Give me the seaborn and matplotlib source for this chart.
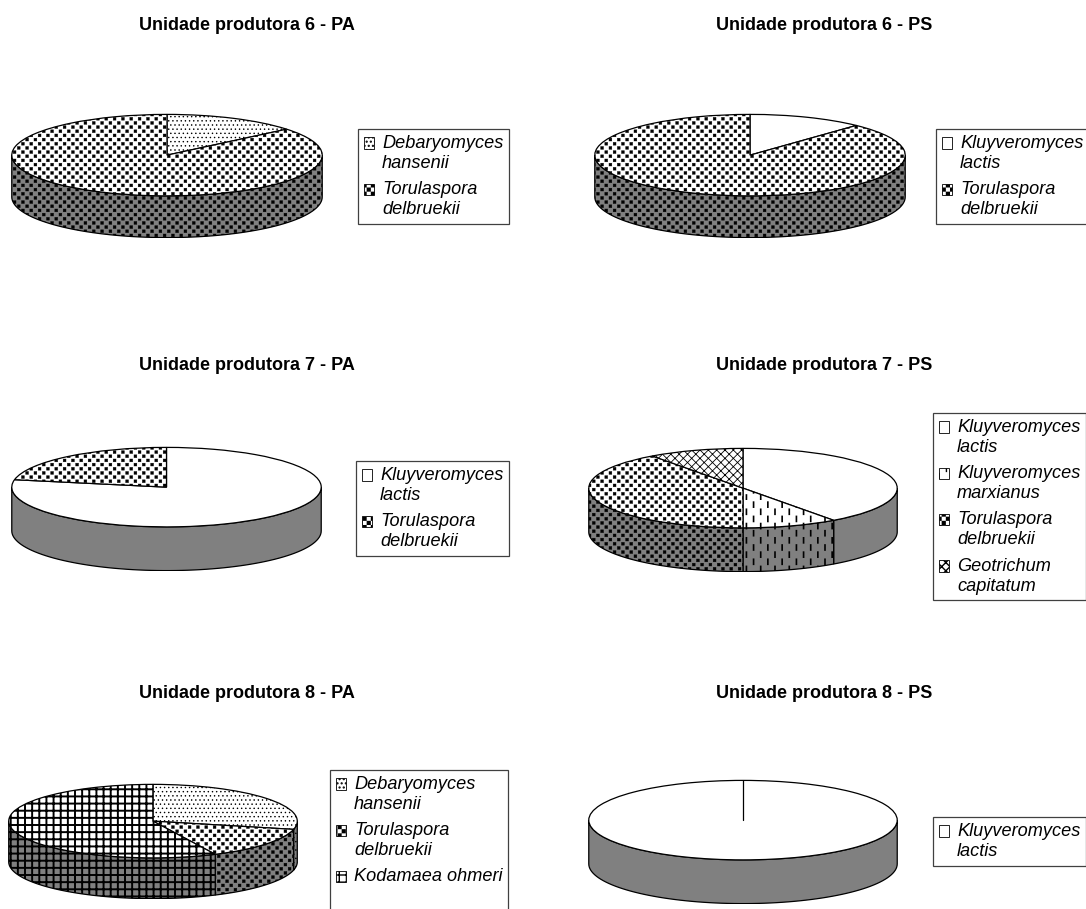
import numpy as np
import seaborn as sns
import matplotlib.pyplot as plt
from matplotlib import hatch as mhatch

W, H = 1086, 909

TITLES = [
    "Unidade produtora 6 - PA", "Unidade produtora 6 - PS",
    "Unidade produtora 7 - PA", "Unidade produtora 7 - PS",
    "Unidade produtora 8 - PA", "Unidade produtora 8 - PS",
]

# species shown in each panel, clockwise from twelve o'clock
species_6pa = ["Debaryomyces\nhansenii", "Torulaspora\ndelbruekii"]
species_6ps = ["Kluyveromyces\nlactis", "Torulaspora\ndelbruekii"]
species_7pa = ["Kluyveromyces\nlactis", "Torulaspora\ndelbruekii"]
species_7ps = ["Kluyveromyces\nlactis", "Kluyveromyces\nmarxianus", "Torulaspora\ndelbruekii", "Geotrichum\ncapitatum"]
species_8pa = ["Debaryomyces\nhansenii", "Torulaspora\ndelbruekii", "Kodamaea ohmeri\n "]
species_8ps = ["Kluyveromyces\nlactis"]

values_6pa = [14, 86]
values_6ps = [12, 88]
values_7pa = [78, 22]
values_7ps = [40, 10, 40, 10]
values_8pa = [28.6, 14.3, 57.1]
values_8ps = [100]

HATCHES = {
    "Debaryomyces": ("....", 0.5),
    "Torulaspora": ("O", 0.3),
    "Kluyveromyces\nlactis": ("", 0.5),
    "Kluyveromyces\nmarxianus": ("*", 1.2),
    "Geotrichum": ("xxxx", 0.6),
    "Kodamaea": ("o", 1.4),
}


# stock patterns are too coarse here, so three unused ones are swapped out
class VerticalDashes(mhatch.HatchPatternBase):
    def __init__(self, hatch, density):
        self.on = hatch.count("*") > 0
        self.cols, self.rows = 14, 7
        self.num_vertices = self.cols * self.rows * 2 if self.on else 0

    def set_vertices_and_codes(self, vertices, codes):
        i = 0
        for row in range(self.rows):
            for col in range(self.cols):
                x = (col + 0.5) / self.cols
                y = (row + 0.5 * (col % 2)) / self.rows
                vertices[i] = (x, y)
                vertices[i + 1] = (x, y + 0.05)
                codes[i] = mhatch.Path.MOVETO
                codes[i + 1] = mhatch.Path.LINETO
                i += 2


class SquareDots(mhatch.HatchPatternBase):
    def __init__(self, hatch, density):
        self.on = hatch.count("O") > 0
        self.cols, self.rows = 12, 24
        self.num_vertices = self.cols * self.rows * 5 if self.on else 0

    def set_vertices_and_codes(self, vertices, codes):
        size = 0.014
        i = 0
        for row in range(self.rows):
            for col in range(self.cols):
                x = (col + 0.5 * (row % 2) + 0.25) / self.cols
                y = (row + 0.5) / self.rows
                vertices[i:i + 5] = [(x - size, y - size), (x + size, y - size), (x + size, y + size),
                                     (x - size, y + size), (x - size, y - size)]
                codes[i] = mhatch.Path.MOVETO
                codes[i + 1:i + 4] = mhatch.Path.LINETO
                codes[i + 4] = mhatch.Path.CLOSEPOLY
                i += 5


class FineGrid(mhatch.HatchPatternBase):
    def __init__(self, hatch, density):
        self.on = hatch.count("o") > 0
        self.n = 14
        self.num_vertices = self.n * 4 if self.on else 0

    def set_vertices_and_codes(self, vertices, codes):
        i = 0
        for k in range(self.n):
            pos = (k + 0.5) / self.n
            vertices[i:i + 4] = [(0, pos), (1, pos), (pos, 0), (pos, 1)]
            codes[i:i + 4] = [mhatch.Path.MOVETO, mhatch.Path.LINETO] * 2
            i += 4


mhatch._hatch_types = [
    t for t in mhatch._hatch_types
    if t not in (mhatch.Stars, mhatch.LargeCircles, mhatch.SmallCircles)
] + [VerticalDashes, SquareDots, FineGrid]


def style_for(label):
    for key, val in HATCHES.items():
        if label.startswith(key):
            return val
    return ("", 0.5)


def draw_pie(fig, title, title_x, title_y, labels, values, box, legend_xy):
    cx, top, rx, ry, depth = box
    ax = fig.add_axes([
        (cx - rx) / W,
        1 - (top + 2 * ry + depth) / H,
        2 * rx / W,
        (2 * ry + depth) / H,
    ])
    wedges, _ = ax.pie(
        values, startangle=90, counterclock=False, radius=1,
        colors=["white"] * len(values),
        wedgeprops={"edgecolor": "black", "linewidth": 0.9, "zorder": 3},
    )
    for wedge, label in zip(wedges, labels):
        pattern, lw = style_for(label)
        wedge.set_hatch(pattern)
        wedge.set_hatch_linewidth(lw)
    if len(values) == 1:
        # a full circle has no radius of its own, Excel still draws the seam
        ax.plot([0, 0], [0, 1], color="black", linewidth=0.9, zorder=4)

    # side wall, only the part of each slice facing the viewer
    drop = depth / ry
    edges = np.cumsum([0] + list(values)) / np.sum(values) * 360
    for start, end, label in zip(edges[:-1], edges[1:], labels):
        a0, a1 = max(start, 90), min(end, 270)
        if a1 <= a0:
            continue
        t = np.radians(np.linspace(a0, a1, 80))
        xs = np.sin(t)
        ys = np.cos(t)
        pattern, lw = style_for(label)
        poly = ax.fill(
            np.r_[xs, xs[::-1]], np.r_[ys, ys[::-1] - drop],
            facecolor="#808080", edgecolor="black", linewidth=0.9,
            hatch=pattern, zorder=2,
        )[0]
        poly.set_hatch_linewidth(lw)

    ax.set_aspect("auto")
    ax.set_xlim(-1.005, 1.005)
    ax.set_ylim(-1 - drop - 0.01, 1.01)
    ax.axis("off")

    fig.text(title_x / W, 1 - title_y / H, title, ha="center", va="center",
             fontsize=13, fontweight="bold", color="black")

    leg = fig.legend(
        wedges, labels, loc="upper left",
        bbox_to_anchor=(legend_xy[0] / W, 1 - legend_xy[1] / H),
        borderaxespad=0, fancybox=False, framealpha=1, edgecolor="#404040",
        prop={"style": "italic", "size": 13.1}, labelcolor="black",
        handlelength=0.58, handleheight=0.58, handletextpad=0.42,
        labelspacing=0.52, borderpad=0.32,
    )
    leg.get_frame().set_linewidth(0.9)
    for text in leg.get_texts():
        text.set_linespacing(1.22)
    # the markers sit on the first line of each entry
    for handle, label in zip(leg.legend_handles, labels):
        handle.set_linewidth(0.6)
        if "\n" in label:
            handle.set_y(handle.get_y() + 7.5)


sns.set_theme(style="white")
plt.rcParams["font.family"] = ["Liberation Sans", "DejaVu Sans"]
plt.rcParams["patch.force_edgecolor"] = True

fig = plt.figure(figsize=(W / 100, H / 100), dpi=100)

draw_pie(fig, TITLES[0], 247, 25, species_6pa, values_6pa, (167, 114, 156, 41, 42), (358, 129))
draw_pie(fig, TITLES[1], 824, 25, species_6ps, values_6ps, (750, 114, 156, 41, 42), (936, 129))
draw_pie(fig, TITLES[2], 247, 366, species_7pa, values_7pa, (166.5, 447, 155.5, 40, 44), (356, 461))
draw_pie(fig, TITLES[3], 824, 366, species_7ps, values_7ps, (743, 448, 155, 40, 44), (933, 413))
draw_pie(fig, TITLES[4], 247, 694, species_8pa, values_8pa, (153, 784, 145, 37, 41), (330, 770))
draw_pie(fig, TITLES[5], 824, 694, species_8ps, values_8ps, (743, 780, 155, 40, 44), (933, 817))

fig.savefig("out.png", dpi=100)
